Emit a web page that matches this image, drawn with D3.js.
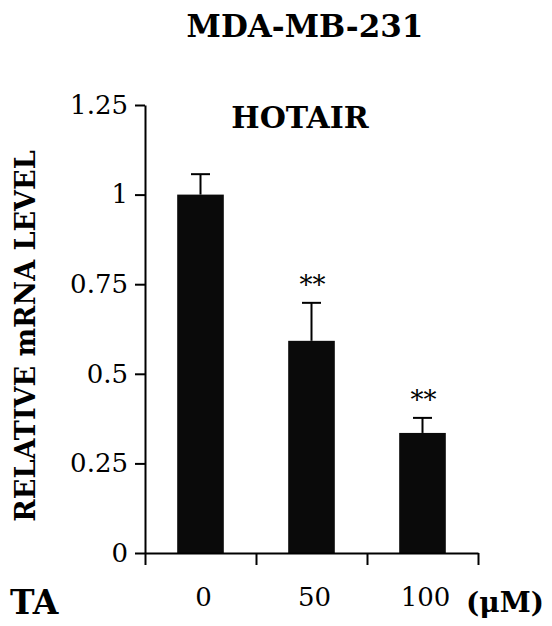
<!DOCTYPE html>
<html>
<head>
<meta charset="utf-8">
<script src="https://cdn.jsdelivr.net/npm/d3@7"></script>
<style>
  html, body { margin: 0; padding: 0; background: #fff; }
  svg { display: block; }
  text { font-family: "DejaVu Serif", serif; fill: #000; }
</style>
</head>
<body>
<svg id="chart" width="552" height="626"></svg>
<script>
// ---- data ----
const categories = ["0", "50", "100"];
const values = [1.0, 0.592, 0.335];
const errors = [0.057, 0.106, 0.042];
const significance = ["", "**", "**"];
const yTicks = [0, 0.25, 0.5, 0.75, 1, 1.25];

(function () {
const svg = d3.select("#chart");
const mLeft = 145, mRight = 478, mTop = 105, mBottom = 553;

const y = d3.scaleLinear().domain([0, 1.25]).range([mBottom, mTop]);
const x = d3.scaleBand().domain(categories).range([mLeft, mRight]).padding(0);
const xb = d3.scaleLinear().domain([0, categories.length]).range([mLeft, mRight]);
const bw = x.bandwidth() * 0.42;

// bars
svg.append("g").selectAll("rect")
  .data(categories)
  .join("rect")
  .attr("x", (d) => x(d) + (x.bandwidth() - bw) / 2)
  .attr("width", bw)
  .attr("y", (d, i) => y(values[i]))
  .attr("height", (d, i) => y(0) - y(values[i]))
  .attr("fill", "#0a0a0a");

// error bars (upper only)
const eg = svg.append("g").attr("stroke", "#000").attr("stroke-width", 2);
categories.forEach((c, i) => {
  const cx = x(c) + x.bandwidth() / 2;
  eg.append("line").attr("x1", cx).attr("x2", cx)
    .attr("y1", y(values[i])).attr("y2", y(values[i] + errors[i]));
  eg.append("line").attr("x1", cx - 9.5).attr("x2", cx + 9.5)
    .attr("y1", y(values[i] + errors[i])).attr("y2", y(values[i] + errors[i]));
});

// significance stars
svg.append("g").selectAll("text")
  .data(categories)
  .join("text")
  .attr("x", (d) => x(d) + x.bandwidth() / 2 + 1)
  .attr("y", (d, i) => y(values[i] + errors[i]) - 9)
  .attr("text-anchor", "middle")
  .attr("font-size", 26)
  .text((d, i) => significance[i]);

// y axis
const ya = svg.append("g").attr("transform", `translate(${mLeft},0)`)
  .call(d3.axisLeft(y).tickValues(yTicks).tickSize(10).tickSizeOuter(0).tickPadding(7)
    .tickFormat(d3.format("")));
ya.selectAll("text").attr("font-size", 26).attr("font-family", "DejaVu Serif");
ya.selectAll("path, line").attr("stroke", "#000").attr("stroke-width", 2);

// x axis boundary ticks
const xa = svg.append("g").attr("transform", `translate(0,${mBottom})`)
  .call(d3.axisBottom(xb).tickValues(d3.range(categories.length + 1)).tickSize(12).tickSizeOuter(0).tickFormat(""));
xa.selectAll("path, line").attr("stroke", "#000").attr("stroke-width", 2);

// x category labels
const xl = svg.append("g").attr("transform", `translate(3,${mBottom})`)
  .call(d3.axisBottom(x).tickSize(0).tickPadding(35));
xl.select(".domain").remove();
xl.selectAll("text").attr("font-size", 26).attr("font-family", "DejaVu Serif");

// titles and labels
svg.append("text").attr("x", 305).attr("y", 37).attr("text-anchor", "middle")
  .attr("font-size", 31).attr("font-weight", "bold").text("MDA-MB-231");
svg.append("text").attr("x", 300).attr("y", 128).attr("text-anchor", "middle")
  .attr("font-size", 30).attr("font-weight", "bold").text("HOTAIR");
svg.append("text").attr("transform", "translate(35,336) rotate(-90)")
  .attr("text-anchor", "middle").attr("font-size", 27).attr("font-weight", "bold")
  .text("RELATIVE mRNA LEVEL");
svg.append("text").attr("x", 10).attr("y", 614)
  .attr("font-size", 33).attr("font-weight", "bold").text("TA");
svg.append("text").attr("x", 466).attr("y", 612)
  .attr("font-size", 28).attr("font-weight", "bold").text("(μM)");
})();
</script>
</body>
</html>
